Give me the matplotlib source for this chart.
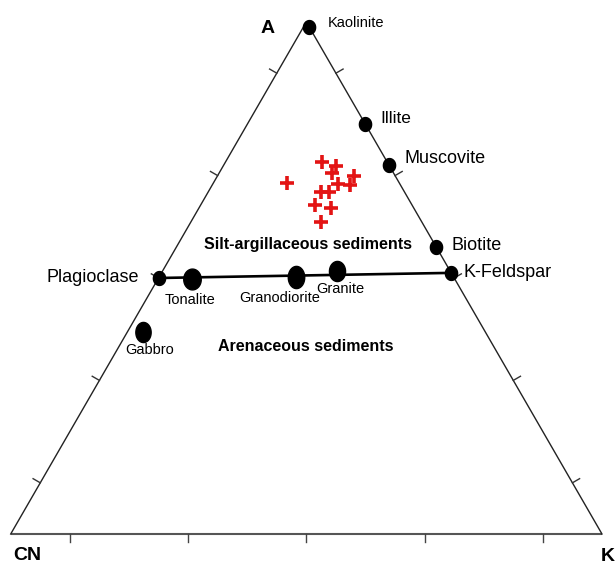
import numpy as np
import matplotlib
matplotlib.use("Agg")
from matplotlib import pyplot as plt
from matplotlib.path import Path

plt.rcParams['font.family'] = ['Liberation Sans', 'DejaVu Sans']

# compositions in percent: A, CN, K
mineral_names = ['Kaolinite', 'Illite', 'Muscovite', 'Biotite', 'K-Feldspar', 'Plagioclase']
mineral_A = [99.0, 80.0, 72.0, 56.0, 51.0, 50.0]
mineral_CN = [0.0, 0.0, 0.0, 0.0, 0.0, 50.0]
mineral_K = [1.0, 20.0, 28.0, 44.0, 49.0, 0.0]

rock_names = ['Tonalite', 'Granodiorite', 'Granite', 'Gabbro']
rock_A = [49.8, 50.1, 51.4, 39.4]
rock_CN = [44.5, 26.7, 19.1, 58.0]
rock_K = [5.7, 23.2, 29.5, 2.6]

sample_A = [72.6, 71.9, 70.6, 68.6, 69.9, 68.1, 68.4, 66.7, 66.7, 64.3, 63.6, 61.0]
sample_CN = [11.0, 9.0, 10.4, 18.9, 7.0, 8.6, 10.5, 14.1, 12.8, 16.4, 14.0, 17.1]
sample_K = [16.4, 19.1, 19.0, 12.5, 23.1, 23.3, 21.1, 19.2, 20.5, 19.3, 22.4, 21.9]

tick_fracs = [0.1, 0.3, 0.5, 0.7, 0.9]

H = np.sqrt(3) / 2


def tern(a, cn, k):
    a = np.asarray(a, float)
    cn = np.asarray(cn, float)
    k = np.asarray(k, float)
    s = a + cn + k
    a, k = a / s, k / s
    return k + 0.5 * a, H * a


def ellipse_marker(ratio):
    t = np.linspace(0, 2 * np.pi, 60)
    verts = np.column_stack([ratio * np.cos(t), np.sin(t)])
    return Path(verts, closed=True)


fig = plt.figure(figsize=(6.16, 5.67), dpi=100)
ax = fig.add_axes([0, 0, 1, 1])
ax.set_xlim(-0.0181, 1.0237)
ax.set_ylim(-0.0558, 0.9032)
ax.axis('off')

# triangle frame
ax.plot([0, 1], [0, 0], color='#555555', lw=1.5, zorder=1, solid_capstyle='butt')
ax.plot([0, 0.5, 1], [0, H, 0], color='#222222', lw=1.0, zorder=1)

# outward ticks on each edge
tl = 0.014
for t in tick_fracs:
    ax.plot([t, t], [0, -tl], color='#444444', lw=1.0, zorder=1)
    px, py = 0.5 * t, H * t
    ax.plot([px, px - H * tl], [py, py + 0.5 * tl], color='#333333', lw=1.0, zorder=1)
    px, py = 1 - 0.5 * t, H * t
    ax.plot([px, px + H * tl], [py, py + 0.5 * tl], color='#333333', lw=1.0, zorder=1)

# plagioclase - K-feldspar join
jx, jy = tern([mineral_A[5], mineral_A[4]], [mineral_CN[5], mineral_CN[4]],
              [mineral_K[5], mineral_K[4]])
ax.plot(jx, jy, color='black', lw=1.9, zorder=2)

# minerals
mx, my = tern(mineral_A, mineral_CN, mineral_K)
ax.plot(mx, my, ls='none', marker=ellipse_marker(0.88), ms=10, color='black', zorder=3)

mineral_offsets = [(13, 3, 'left', 10.5), (11, 4, 'left', 12.5), (11, 5, 'left', 13),
                   (11, 1, 'left', 13), (9, 0, 'left', 13), (-14, 0, 'right', 13)]
for name, x, y, (dx, dy, ha, fs) in zip(mineral_names, mx, my, mineral_offsets):
    ax.annotate(name, (x, y), xytext=(dx, dy), textcoords='offset points',
                ha=ha, va='center', fontsize=fs, zorder=4)

# common igneous rocks
rx, ry = tern(rock_A, rock_CN, rock_K)
rock_shapes = [(0.84, 15), (0.74, 16), (0.8, 14.5), (0.76, 14.5)]
for x, y, (ratio, ms) in zip(rx, ry, rock_shapes):
    ax.plot(x, y, ls='none', marker=ellipse_marker(ratio), ms=ms, color='black', zorder=3)

rock_offsets = [(-1, -15), (-12, -14.5), (2, -13), (5, -13)]
for name, x, y, (dx, dy) in zip(rock_names, rx, ry, rock_offsets):
    ax.annotate(name, (x, y), xytext=(dx, dy), textcoords='offset points',
                ha='center', va='center', fontsize=10.5, zorder=4)

# samples
sx, sy = tern(sample_A, sample_CN, sample_K)
ax.plot(sx, sy, ls='none', marker='+', ms=10, mew=2.6, color='#e31414', zorder=3)

# field names
ax.text(0.5028, 0.4905, 'Silt-argillaceous sediments', ha='center', va='center',
        fontsize=11.5, fontweight='bold')
ax.text(0.4994, 0.3163, 'Arenaceous sediments', ha='center', va='center',
        fontsize=11.5, fontweight='bold')

# apices
ax.text(0.4351, 0.8553, 'A', ha='center', va='center', fontsize=14, fontweight='bold')
ax.text(0.0276, -0.0368, 'CN', ha='center', va='center', fontsize=14, fontweight='bold')
ax.text(1.0101, -0.0380, 'K', ha='center', va='center', fontsize=14, fontweight='bold')

fig.savefig('out.png', dpi=100)
